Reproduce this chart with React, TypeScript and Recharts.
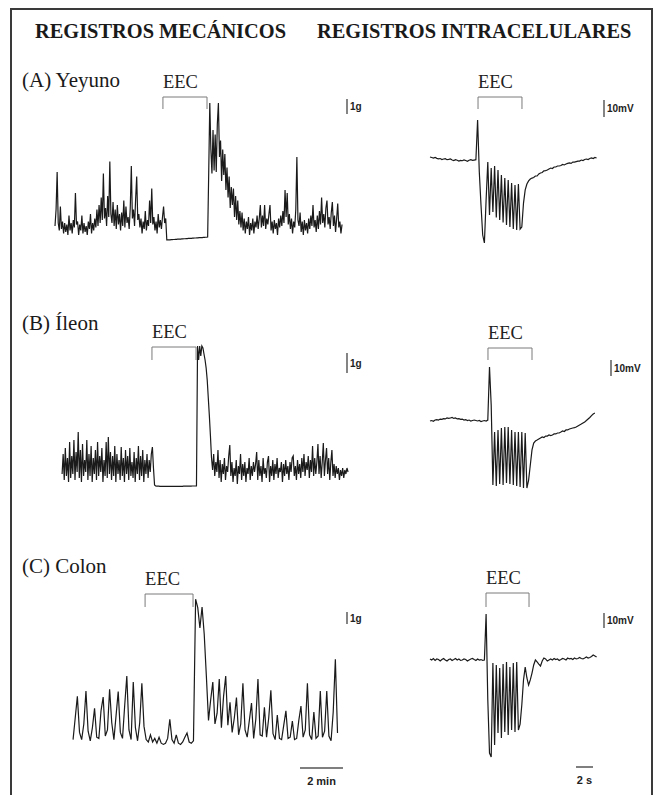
import React from 'react';
import { LineChart, Line, XAxis, YAxis, ReferenceLine } from 'recharts';

// ---------------- text ----------------
const columnTitles = ['REGISTROS MECÁNICOS', 'REGISTROS INTRACELULARES'];
const panelNames = ['(A) Yeyuno', '(B) Íleon', '(C) Colon'];
const stimLabel = 'EEC';
const forceLabel = '1g';
const voltLabel = '10mV';
const minLabel = '2 min';
const secLabel = '2 s';

// ---------------- mechanical recordings (tension, g) ----------------
const mechDt = [0.05, 0.05, 0.1]; // min between samples
const mechStart = [0, 0.33, 0.84]; // min
const mechYeyuno = [
  0.4, 1.5, 4.0, 0.6, 0.1, 1.7, 0.2, 0.7, -0.1, 0.6,
  0.0, 0.5, -0.2, 1.1, 0.1, 0.6, -0.1, 0.8, 0.3, 2.6,
  0.5, 0.7, -0.2, 0.5, 0.1, 1.1, -0.1, 0.6, 0.0, 0.4,
  -0.2, 0.7, 0.2, 1.2, -0.1, 0.6, 0.1, 0.9, 0.3, 1.5,
  0.4, 1.8, 0.6, 2.3, 0.8, 3.9, 0.9, 1.6, 0.4, 2.4,
  1.0, 4.7, 1.2, 0.6, 2.0, 0.4, 1.5, 0.2, 1.8, 0.5,
  1.2, 0.1, 1.3, 0.4, 2.1, 0.3, 1.7, 0.6, 1.0, 0.2,
  1.6, 4.4, 0.9, 1.5, 0.4, 2.2, 3.7, 0.8, 1.2, 0.3,
  0.9, -0.1, 0.7, 0.2, 1.4, 0.1, 0.8, 0.4, 2.1, 0.6,
  2.9, 0.5, 1.0, 0.1, 0.7, -0.1, 1.2, 0.3, 0.8, 0.2,
  1.0, 1.7, 0.6, 0.9, -0.53, -0.53, -0.52, -0.52, -0.51, -0.51,
  -0.5, -0.5, -0.49, -0.49, -0.48, -0.48, -0.47, -0.47, -0.46, -0.46,
  -0.45, -0.45, -0.44, -0.44, -0.43, -0.43, -0.42, -0.42, -0.41, -0.41,
  -0.4, -0.4, -0.39, -0.39, -0.38, -0.38, -0.37, -0.37, -0.36, -0.36,
  -0.35, -0.35, -0.34, 4.0, 8.6, 5.5, 3.9, 6.8, 4.1, 6.5,
  4.0, 7.2, 8.6, 5.0, 6.1, 3.4, 5.5, 3.8, 5.2, 2.8,
  4.3, 2.3, 3.7, 1.6, 3.0, 1.8, 2.9, 1.0, 2.4, 0.8,
  2.1, 0.5, 1.4, 0.3, 1.3, 0.1, 0.9, -0.1, 0.7, 0.2,
  1.0, -0.2, 0.6, 0.1, 0.9, -0.1, 0.7, 0.3, 1.1, 0.2,
  0.9, 1.8, 0.3, 1.1, 0.4, 1.8, 0.2, 0.9, 0.5, 1.2,
  1.8, 0.1, 0.7, -0.1, 0.8, 0.2, 0.6, -0.2, 0.9, 0.3,
  1.1, 0.4, 1.4, 0.6, 2.8, 1.0, 2.6, 0.5, 1.2, 0.2,
  0.9, -0.1, 0.7, 0.3, 1.5, 5.0, 0.8, 0.4, 1.3, 0.0,
  0.7, -0.2, 0.8, 0.1, 0.6, -0.1, 0.9, 0.2, 1.1, 0.4,
  1.8, 0.3, 0.8, 0.0, 1.1, 0.2, 1.4, 0.5, 2.3, 0.6,
  1.2, 0.3, 1.6, 2.1, 0.5, 1.0, 0.2, 1.3, 2.0, 0.4,
  1.1, 0.0, 0.9, 1.9, 0.3, 0.7, -0.1, 0.5,
];
const mechIleon = [
  0.3, 1.3, 0.0, 1.6, 0.2, 1.1, -0.1, 1.9, 0.1, 1.2,
  0.3, 2.0, 0.0, 1.4, 0.4, 2.4, 0.1, 1.5, -0.1, 1.8,
  0.2, 1.0, 0.4, 2.0, 0.0, 1.3, 0.2, 1.7, -0.1, 1.1,
  0.3, 1.5, 0.0, 1.9, 0.2, 1.2, 0.4, 1.6, -0.1, 1.0,
  0.2, 1.9, 0.1, 2.15, 0.3, 1.4, 0.0, 1.2, 0.2, 1.7,
  -0.1, 1.3, 0.3, 1.0, 0.0, 1.65, 0.2, 1.1, -0.1, 1.5,
  0.3, 1.2, 0.0, 1.6, 0.2, 0.9, 0.1, 1.4, -0.1, 1.1,
  0.3, 1.7, 0.0, 1.2, 0.2, 1.5, -0.1, 1.0, 0.3, 1.3,
  0.1, 1.0, 0.4, 1.3, 1.65, 0.6, -0.25, -0.3, -0.31, -0.31,
  -0.31, -0.32, -0.32, -0.32, -0.32, -0.32, -0.32, -0.32, -0.32, -0.32,
  -0.32, -0.32, -0.32, -0.32, -0.32, -0.32, -0.32, -0.32, -0.32, -0.32,
  -0.32, -0.32, -0.32, -0.31, -0.31, -0.31, -0.31, -0.31, -0.31, -0.31,
  -0.31, -0.3, -0.3, -0.3, -0.3, -0.3, 6.7, 6.0, 6.7, 6.2,
  6.7, 6.6, 6.3, 6.0, 5.6, 5.0, 4.1, 3.2, 2.2, 1.1,
  0.5, 1.3, 0.2, 0.9, 0.4, 1.5, 0.1, 1.0, -0.1, 0.8,
  0.3, 1.1, 0.0, 0.7, 0.4, 1.2, 1.75, 0.2, 0.9, -0.1,
  0.6, 0.2, 1.0, -0.2, 0.7, 0.3, 1.3, 0.0, 0.8, 0.2,
  0.9, -0.1, 0.6, 0.3, 1.1, 0.0, 0.7, 0.2, 0.9, 0.4,
  0.8, 1.4, 0.0, 1.0, 0.2, 0.7, -0.1, 1.1, 0.3, 0.6,
  0.1, 0.9, 1.2, -0.1, 0.7, 0.2, 1.0, 0.0, 0.8, 0.3,
  1.1, 0.1, 0.6, 0.4, 0.9, -0.1, 0.8, 0.2, 1.0, 0.3,
  0.7, 0.0, 0.9, 0.4, 1.1, 1.2, 0.2, 0.7, 0.0, 1.0,
  0.3, 0.8, 0.1, 1.1, 0.4, 1.3, 0.2, 0.9, 0.5, 1.2,
  0.1, 1.0, 0.4, 1.7, 0.2, 1.1, 0.3, 0.9, 1.8, 0.3,
  1.2, 0.1, 0.9, 1.85, 0.2, 1.0, 1.6, 0.3, 1.1, 0.0,
  0.9, 1.5, 0.2, 0.8, 0.1, 0.7, 0.3, 0.6, 0.0, 0.5,
  0.2, 0.6, 0.1, 0.5, 0.3, 0.6, 0.4,
];
const mechColon = [
  0.2, 2.0, 3.8, 0.8, 0.2, 1.5, 4.25, 0.9, 0.1, 1.2,
  2.8, 0.4, 0.3, 2.6, 3.75, 0.5, 1.0, 4.4, 1.6, 0.2,
  2.2, 4.2, 0.8, 0.3, 3.0, 5.5, 1.0, 0.2, 5.0, 1.2,
  0.1, 1.6, 4.9, 1.3, 0.2, 0.0, 0.6, 0.0, 0.3, -0.1,
  0.4, -0.1, -0.2, -0.1, 0.3, 1.9, 0.2, -0.1, 0.6, -0.1,
  -0.2, 0.0, 0.4, 0.75, 0.0, -0.1, 0.1, 11.9, 11.2, 9.5,
  11.25, 9.0, 5.5, 1.8, 3.5, 5.0, 1.5, 2.4, 5.25, 1.2,
  3.8, 5.5, 1.4, 3.3, 0.8, 2.0, 3.7, 0.6, 1.5, 4.9,
  1.0, 0.4, 1.8, 3.25, 0.3, 1.9, 5.25, 0.6, 0.5, 2.9,
  0.4, 2.0, 4.3, 0.7, 0.2, 2.25, 0.3, 0.2, 1.4, 2.6,
  0.3, 0.4, 1.75, 0.2, 0.3, 1.8, 3.0, 0.4, 1.0, 4.9,
  0.6, 0.2, 2.5, 0.3, 0.5, 4.25, 0.4, 0.9, 4.25, 0.5,
  0.1, 2.5, 6.9, 0.75,
];
const mechEecStart = [5.02, 4.51, 4.19]; // min
const mechEecEnd = [7.07, 6.56, 6.42];
const mechForceBar = 1; // g
const mechTimeBar = 2; // min

// ---------------- intracellular recordings (mV relative to rest; sampled every 0.2 s) ----------------
const intraDt = [0.2, 0.2, 0.2];
const intraStart = [0, 0, 0];
const intraYeyuno = [
  0.6, 0.3, 0.0, 0.4, -0.2, -0.5, -0.3, -0.9, -0.6, -0.4,
  -1.0, -0.8, -0.5, -1.2, -1.5, -1.0, -1.3, -1.8, -1.4, -1.6,
  -1.1, -1.5, -1.9, -1.3, -1.0, -1.4, -1.2, -1.0, 22.4, -8.2,
  -27.6, -45.3, -50, -24.7, -2.4, -33.5, -5.9, -31.8, -4.7, -35,
  -7, -36.5, -10, -38, -11.8, -39.4, -13, -40.6, -14.7, -41.8,
  -15.9, -42.4, -15.3, -41.8, -40.6, -26.5, -18.8, -15.3, -13.5, -12.4,
  -11.8, -11.5, -10.6, -10.6, -9.4, -8.8, -8.5, -7.6, -7.4, -7.1,
  -6.5, -5.9, -6.2, -5.3, -5.3, -4.7, -4.7, -4.4, -3.8, -4.1,
  -3.5, -3.2, -2.9, -3.2, -2.4, -2.4, -2.1, -1.8, -1.8, -1.2,
  -1.5, -0.9, -0.6, -0.9, -0.3, 0, -0.3, 0.3, 0,
];
const intraIleon = [
  0.0, 0.3, -0.2, 0.6, 0.9, 0.6, 1.2, 1.0, 1.5, 1.3,
  1.9, 1.6, 1.9, 2.2, 1.6, 1.9, 1.3, 1.5, 1.0, 1.2,
  0.6, 0.9, 0.3, 0.6, 0.0, 0.3, 0.6, 0.3, 0.0, 0.3,
  -0.3, 0.0, 0.3, 0.0, 0.6, 33.75, 10, -40, -6.9, -40.6,
  -5.6, -39.4, -4.4, -40, -3.75, -38.75, -3.75, -39.4, -5.6, -40,
  -6.9, -40.6, -6.9, -41.25, -6.9, -41.9, -7.5, -41.9, -36.9, -27.5,
  -18.1, -13.75, -12.5, -11.9, -11.25, -10.6, -10, -10.3, -9.4, -9.4,
  -8.75, -9.1, -8.75, -8.1, -8.1, -7.5, -7.5, -6.9, -6.25, -6.6,
  -5.6, -5.6, -5, -4.7, -4.4, -4.1, -3.75, -3.1, -2.5, -1.9,
  -1.25, -0.6, 0.3, 1.25, 2.2, 3.4, 4.4, 5,
];
const intraColon = [
  0.7, 0.0, 1.0, -0.3, 0.7, 0.3, -0.7, 0.3, 1.0, 0.0,
  -0.7, 0.3, 0.7, -0.3, 0.3, 1.0, 0.0, 0.7, -0.3, 0.0,
  0.7, 0.3, -0.7, 0.0, 0.7, 1.0, 0.3, -0.3, 0.7, 0.0,
  0.3, -0.3, 0.0, 30.7, -26.7, -62, -64.7, -2, -56.7, -3.3,
  -48.7, -5.3, -52, -2.7, -48, -1.3, -50, -4.7, -46.7, -2,
  -48, -1.3, -46.7, -42.7, -30, -13.3, -4.7, -12, -16.7, -13.3,
  -8.7, -3.3, 0, -1.3, -2.7, -4, -0.7, 1.3, 0.7, -0.7,
  0, 0.7, 0.0, 1.0, 0.3, 0.7, -0.3, 0.3, 1.0, 0.7,
  0.0, 1.3, 0.7, 1.0, 0.3, 1.3, 0.7, 1.0, 1.7, 1.0,
  0.7, 1.3, 2.0, 1.3, 1.7, 2.3, 3.3, 2.7, 2.0,
];
const intraEecStart = [5.65, 6.82, 6.59]; // s
const intraEecEnd = [10.82, 12.0, 11.65];
const intraVoltBar = 10; // mV
const intraTimeBar = 2; // s

// ---------------- layout ----------------
const SERIF = '"Liberation Serif", "Times New Roman", serif';
const SANS = '"Liberation Sans", Arial, sans-serif';
const TRACE = '#1a1a1a';

type Geo = {
  left: number; top: number; width: number; height: number;
  x0: number; kx: number; y0: number; ky: number;
  bracketTop: number; tick: number;
  barX: number; barTop: number;
  timeBarX?: number; timeBarY?: number;
};

const mechGeo: Geo[] = [
  { left: 44, top: 70, width: 340, height: 180, x0: 55, kx: 21.5, y0: 232, ky: 15, bracketTop: 97, tick: 12, barX: 347, barTop: 99 },
  { left: 44, top: 315, width: 340, height: 180, x0: 55, kx: 21.5, y0: 480, ky: 20, bracketTop: 347, tick: 13, barX: 347, barTop: 353 },
  { left: 44, top: 560, width: 340, height: 232, x0: 55, kx: 21.5, y0: 742, ky: 12, bracketTop: 594, tick: 13, barX: 347, barTop: 612, timeBarX: 300, timeBarY: 768 },
];
const intraGeo: Geo[] = [
  { left: 420, top: 70, width: 230, height: 185, x0: 430, kx: 8.5, y0: 158, ky: 1.7, bracketTop: 97, tick: 12, barX: 604, barTop: 100 },
  { left: 420, top: 315, width: 230, height: 185, x0: 430, kx: 8.5, y0: 421, ky: 1.6, bracketTop: 348, tick: 12, barX: 611, barTop: 360 },
  { left: 420, top: 560, width: 230, height: 232, x0: 430, kx: 8.5, y0: 660, ky: 1.5, bracketTop: 593, tick: 14, barX: 604, barTop: 613, timeBarX: 576, timeBarY: 767 },
];

type PanelProps = {
  values: number[]; start: number; dt: number; geo: Geo;
  eecStart: number; eecEnd: number;
  ampBar: number; ampLabel: string;
  timeBar?: number; timeLabel?: string;
};

function TracePanel({ values, start, dt, geo, eecStart, eecEnd, ampBar, ampLabel, timeBar, timeLabel }: PanelProps) {
  const data = values.map((v, i) => ({ t: start + i * dt, v }));
  const toX = (px: number) => (px - geo.x0) / geo.kx;
  const toY = (py: number) => (geo.y0 - py) / geo.ky;
  const xDomain: [number, number] = [toX(geo.left), toX(geo.left + geo.width)];
  const yDomain: [number, number] = [toY(geo.top + geo.height), toY(geo.top)];
  const yTop = toY(geo.bracketTop);
  const yTick = toY(geo.bracketTop + geo.tick);
  const barX = toX(geo.barX);
  const barTop = toY(geo.barTop);
  const hasTime = timeBar !== undefined && geo.timeBarX !== undefined && geo.timeBarY !== undefined;
  const tbX = hasTime ? toX(geo.timeBarX as number) : 0;
  const tbY = hasTime ? toY(geo.timeBarY as number) : 0;
  return (
    <div style={{ position: 'absolute', left: geo.left, top: geo.top }}>
      <LineChart width={geo.width} height={geo.height} data={data} margin={{ top: 0, right: 0, bottom: 0, left: 0 }}>
        <XAxis type="number" dataKey="t" domain={xDomain} hide allowDataOverflow />
        <YAxis type="number" domain={yDomain} hide allowDataOverflow />
        <Line type="linear" dataKey="v" stroke={TRACE} strokeWidth={1.2} dot={false} activeDot={false} isAnimationActive={false} />
        <ReferenceLine segment={[{ x: eecStart, y: yTick }, { x: eecStart, y: yTop }]} stroke="#7a7a7a" strokeWidth={1} />
        <ReferenceLine
          segment={[{ x: eecStart, y: yTop }, { x: eecEnd, y: yTop }]}
          stroke="#7a7a7a"
          strokeWidth={1}
          label={{ value: stimLabel, position: 'insideBottomLeft', offset: 0, dy: -9, fill: '#222', fontSize: 18.5, fontFamily: SERIF }}
        />
        <ReferenceLine segment={[{ x: eecEnd, y: yTop }, { x: eecEnd, y: yTick }]} stroke="#7a7a7a" strokeWidth={1} />
        <ReferenceLine
          segment={[{ x: barX, y: barTop }, { x: barX, y: barTop - ampBar }]}
          stroke="#333"
          strokeWidth={1.2}
          label={{ value: ampLabel, position: 'right', offset: 3, fill: '#222', fontSize: 10, fontWeight: 'bold', fontFamily: SANS }}
        />
        {hasTime && (
          <ReferenceLine
            segment={[{ x: tbX, y: tbY }, { x: tbX + (timeBar as number), y: tbY }]}
            stroke="#555"
            strokeWidth={1.5}
            label={{ value: timeLabel, position: 'bottom', offset: 9, fill: '#222', fontSize: 11, fontWeight: 'bold', fontFamily: SANS }}
          />
        )}
      </LineChart>
    </div>
  );
}

const mechSeries = [mechYeyuno, mechIleon, mechColon];
const intraSeries = [intraYeyuno, intraIleon, intraColon];
const labelBaselines = [87, 330, 573];

export default function App() {
  return (
    <div style={{ position: 'absolute', left: 0, top: 0, width: 660, height: 795, overflow: 'hidden', background: '#fff' }}>
      <div style={{ position: 'absolute', left: 10, top: 8, width: 643, height: 800, boxSizing: 'border-box', border: '2px solid #3a3a3a' }} />
      <svg width={660} height={795} style={{ position: 'absolute', left: 0, top: 0 }}>
        <text x={35} y={38} fontFamily={SERIF} fontWeight="bold" fontSize={20.4} fill="#1a1a1a">{columnTitles[0]}</text>
        <text x={317} y={38} fontFamily={SERIF} fontWeight="bold" fontSize={20.4} fill="#1a1a1a">{columnTitles[1]}</text>
        {panelNames.map((n, i) => (
          <text key={n} x={22} y={labelBaselines[i]} fontFamily={SERIF} fontSize={21} fill="#1a1a1a">{n}</text>
        ))}
      </svg>
      {mechSeries.map((vals, i) => (
        <TracePanel
          key={'m' + i}
          values={vals}
          start={mechStart[i]}
          dt={mechDt[i]}
          geo={mechGeo[i]}
          eecStart={mechEecStart[i]}
          eecEnd={mechEecEnd[i]}
          ampBar={mechForceBar}
          ampLabel={forceLabel}
          timeBar={i === 2 ? mechTimeBar : undefined}
          timeLabel={i === 2 ? minLabel : undefined}
        />
      ))}
      {intraSeries.map((vals, i) => (
        <TracePanel
          key={'c' + i}
          values={vals}
          start={intraStart[i]}
          dt={intraDt[i]}
          geo={intraGeo[i]}
          eecStart={intraEecStart[i]}
          eecEnd={intraEecEnd[i]}
          ampBar={intraVoltBar}
          ampLabel={voltLabel}
          timeBar={i === 2 ? intraTimeBar : undefined}
          timeLabel={i === 2 ? secLabel : undefined}
        />
      ))}
    </div>
  );
}
